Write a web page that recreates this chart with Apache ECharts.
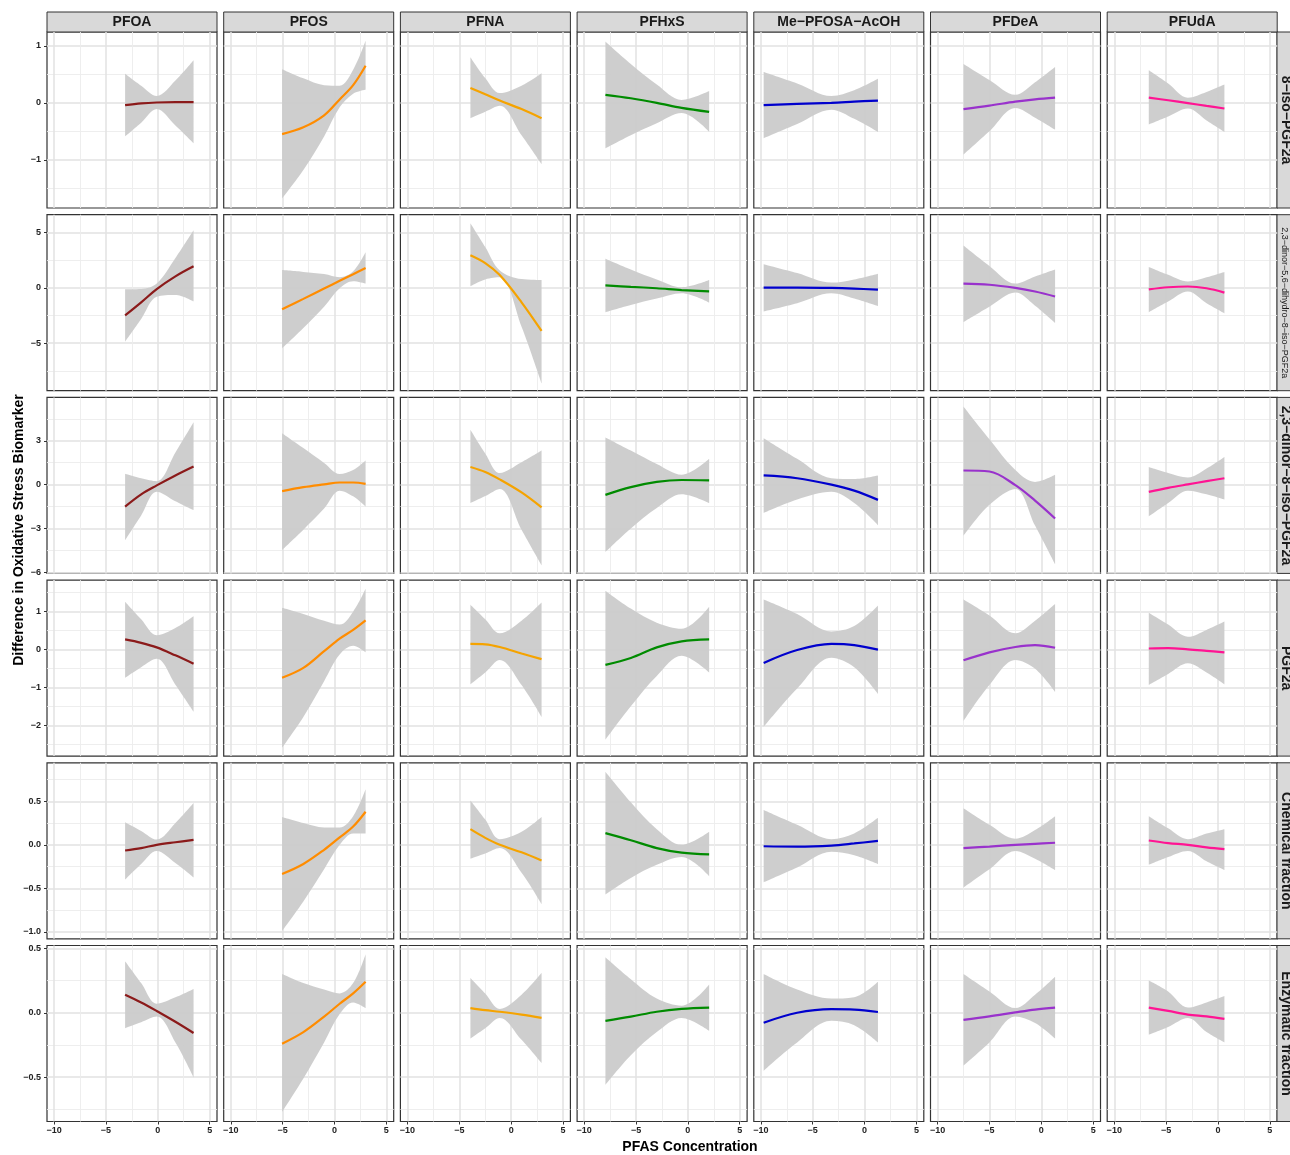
<!DOCTYPE html>
<html>
<head>
<meta charset="utf-8">
<title>PFAS vs oxidative stress</title>
<script src="https://cdn.jsdelivr.net/npm/echarts@6/dist/echarts.min.js"></script>
<style>
  html, body { margin: 0; padding: 0; background: #fff; }
  #chart { width: 1290px; height: 1155px; }
</style>
</head>
<body>
<div id="chart"></div>
<script>
// facet columns / rows
const chemicals = ['PFOA', 'PFOS', 'PFNA', 'PFHxS', 'Me−PFOSA−AcOH', 'PFDeA', 'PFUdA'];
const biomarkers = ['8−iso−PGF2a', '2,3−dinor−5,6−dihydro−8−iso−PGF2a', '2,3−dinor−8−iso−PGF2a',
  'PGF2a', 'Chemical fraction', 'Enzymatic fraction'];
const lineColors = ['#8B1A1A', '#FF8C00', '#F5A300', '#008B00', '#0000CD', '#9932CC', '#FF1493'];

// x positions sampled per chemical
const xPoints = [
  [-3.15, -1.6, -0.1, 1.7, 3.45],
  [-5.05, -3.0, -1.0, 0.5, 1.8, 3.0],
  [-3.93, -2.5, -1.1, 1.0, 2.93],
  [-7.95, -5.5, -3.0, -0.6, 2.05],
  [-9.73, -6.5, -3.2, -1.0, 1.29],
  [-7.5, -5.0, -2.5, -0.6, 1.33],
  [-6.67, -4.8, -2.9, -1.1, 0.62]
];

// 8-iso-PGF2a
const isoFit = [
  [-0.04, -0.01, 0.005, 0.012, 0.012],
  [-0.55, -0.43, -0.22, 0.06, 0.31, 0.65],
  [0.26, 0.15, 0.04, -0.11, -0.27],
  [0.14, 0.08, 0.0, -0.09, -0.16],
  [-0.04, -0.02, 0.0, 0.02, 0.04],
  [-0.11, -0.05, 0.02, 0.06, 0.09],
  [0.09, 0.045, -0.005, -0.055, -0.10]
];
const isoLow = [
  [-0.59, -0.35, -0.11, -0.40, -0.71],
  [-1.68, -1.18, -0.59, -0.08, 0.16, 0.23],
  [-0.27, -0.155, -0.05, -0.57, -1.075],
  [-0.80, -0.57, -0.36, -0.18, -0.51],
  [-0.62, -0.37, -0.12, -0.28, -0.51],
  [-0.91, -0.50, -0.09, -0.26, -0.47],
  [-0.38, -0.24, -0.10, -0.31, -0.51]
];
const isoHigh = [
  [0.51, 0.30, 0.12, 0.39, 0.745],
  [0.59, 0.43, 0.31, 0.30, 0.58, 1.09],
  [0.80, 0.435, 0.17, 0.30, 0.52],
  [1.075, 0.68, 0.32, 0.05, 0.205],
  [0.54, 0.34, 0.12, 0.22, 0.42],
  [0.68, 0.40, 0.14, 0.36, 0.63],
  [0.57, 0.34, 0.09, 0.19, 0.32]
];

// 2,3-dinor-5,6-dihydro-8-iso-PGF2a
const dihydroFit = [
  [-2.48, -1.3, -0.1, 1.05, 1.96],
  [-1.93, -0.99, -0.06, 0.64, 1.24, 1.80],
  [2.96, 2.25, 1.16, -1.3, -3.89],
  [0.225, 0.10, -0.03, -0.19, -0.32],
  [0.03, 0.03, 0.0, -0.06, -0.16],
  [0.39, 0.29, 0.0, -0.32, -0.77],
  [-0.13, 0.06, 0.13, -0.03, -0.42]
];
const dihydroLow = [
  [-4.86, -2.8, -0.8, -0.64, -1.22],
  [-5.47, -3.63, -1.70, -0.03, 0.6, 0.39],
  [0.16, 0.77, 0.96, -3.5, -8.62],
  [-2.19, -1.54, -0.96, -0.48, -1.32],
  [-2.12, -1.38, -0.48, -0.96, -1.64],
  [-3.09, -1.70, -0.42, -1.60, -3.15],
  [-2.19, -1.22, -0.32, -1.38, -2.28]
];
const dihydroHigh = [
  [-0.13, -0.1, 0.39, 2.7, 5.21],
  [1.61, 1.45, 1.25, 0.96, 1.5, 3.22],
  [5.85, 3.7, 1.58, 0.8, 0.71],
  [2.64, 1.67, 0.77, 0.06, 0.71],
  [2.15, 1.35, 0.48, 0.77, 1.29],
  [3.83, 1.99, 0.39, 1.03, 1.67],
  [1.90, 1.19, 0.58, 0.96, 1.45]
];

// 2,3-dinor-8-iso-PGF2a
const dinorFit = [
  [-1.50, -0.66, -0.05, 0.63, 1.24],
  [-0.44, -0.17, 0.02, 0.15, 0.15, 0.05],
  [1.21, 0.87, 0.36, -0.53, -1.55],
  [-0.70, -0.17, 0.19, 0.32, 0.29],
  [0.63, 0.44, 0.0, -0.41, -1.04],
  [0.97, 0.9, -0.03, -1.09, -2.31],
  [-0.49, -0.22, 0.02, 0.24, 0.44]
];
const dinorLow = [
  [-3.81, -2.11, -0.49, -1.14, -1.75],
  [-4.47, -3.08, -1.63, -0.41, -0.8, -1.50],
  [-1.26, -0.78, -0.29, -3.08, -5.51],
  [-4.61, -3.0, -1.6, -0.66, -1.26],
  [-1.94, -1.02, -0.49, -1.26, -2.77],
  [-3.50, -1.38, -0.29, -2.8, -5.44],
  [-2.18, -1.26, -0.41, -0.66, -1.02]
];
const dinorHigh = [
  [0.75, 0.44, 0.24, 2.2, 4.27],
  [3.52, 2.50, 1.48, 0.73, 1.0, 1.65],
  [3.76, 2.14, 0.80, 1.53, 2.33],
  [3.23, 2.33, 1.41, 0.68, 1.77],
  [3.18, 1.77, 0.44, 0.39, 0.63],
  [5.34, 3.1, 1.0, 0.19, 0.68],
  [1.21, 0.80, 0.49, 1.1, 1.89]
];

// PGF2a
const pgfFit = [
  [0.27, 0.18, 0.06, -0.15, -0.37],
  [-0.74, -0.48, -0.04, 0.29, 0.52, 0.77],
  [0.15, 0.14, 0.07, -0.10, -0.25],
  [-0.40, -0.22, 0.06, 0.22, 0.27],
  [-0.35, -0.01, 0.15, 0.12, 0.0],
  [-0.28, -0.07, 0.07, 0.12, 0.05],
  [0.03, 0.04, 0.01, -0.03, -0.07]
];
const pgfLow = [
  [-0.74, -0.46, -0.24, -0.92, -1.63],
  [-2.58, -1.77, -0.83, -0.13, 0.10, -0.07],
  [-0.91, -0.60, -0.27, -0.93, -1.77],
  [-2.37, -1.49, -0.69, -0.16, -0.60],
  [-2.03, -1.02, -0.21, -0.46, -1.16],
  [-1.88, -0.93, -0.27, -0.50, -1.11],
  [-0.93, -0.64, -0.36, -0.60, -0.91]
];
const pgfHigh = [
  [1.26, 0.80, 0.38, 0.57, 0.88],
  [1.10, 0.94, 0.76, 0.66, 1.0, 1.60],
  [1.18, 0.80, 0.43, 0.76, 1.24],
  [1.55, 1.08, 0.71, 0.55, 1.13],
  [1.32, 0.94, 0.48, 0.62, 1.16],
  [1.32, 0.90, 0.43, 0.76, 1.20],
  [0.97, 0.66, 0.34, 0.52, 0.74]
];

// Chemical fraction
const chemFit = [
  [-0.065, -0.037, 0.0, 0.03, 0.057],
  [-0.335, -0.22, -0.057, 0.086, 0.21, 0.38],
  [0.18, 0.08, 0.0, -0.086, -0.18],
  [0.135, 0.053, -0.037, -0.09, -0.11],
  [-0.016, -0.02, -0.008, 0.016, 0.045],
  [-0.037, -0.02, 0.0, 0.012, 0.024],
  [0.05, 0.02, 0.0, -0.03, -0.05]
];
const chemLow = [
  [-0.40, -0.22, -0.07, -0.21, -0.375],
  [-0.99, -0.65, -0.28, 0.0, 0.13, 0.13],
  [-0.16, -0.10, -0.037, -0.32, -0.68],
  [-0.57, -0.38, -0.23, -0.14, -0.36],
  [-0.43, -0.26, -0.08, -0.12, -0.22],
  [-0.49, -0.28, -0.07, -0.16, -0.29],
  [-0.23, -0.14, -0.07, -0.19, -0.29]
];
const chemHigh = [
  [0.26, 0.16, 0.06, 0.25, 0.48],
  [0.32, 0.25, 0.20, 0.20, 0.33, 0.64],
  [0.51, 0.29, 0.065, 0.15, 0.32],
  [0.84, 0.49, 0.18, 0.0, 0.15],
  [0.40, 0.23, 0.065, 0.13, 0.31],
  [0.42, 0.23, 0.07, 0.17, 0.33],
  [0.33, 0.19, 0.065, 0.13, 0.18]
];

// Enzymatic fraction
const enzFit = [
  [0.14, 0.08, 0.014, -0.07, -0.157],
  [-0.24, -0.15, -0.03, 0.07, 0.15, 0.24],
  [0.036, 0.02, 0.008, -0.014, -0.04],
  [-0.063, -0.03, 0.008, 0.03, 0.04],
  [-0.077, 0.0, 0.028, 0.025, 0.006],
  [-0.055, -0.028, 0.003, 0.025, 0.04],
  [0.04, 0.014, -0.014, -0.028, -0.047]
];
const enzLow = [
  [-0.12, -0.074, -0.03, -0.23, -0.50],
  [-0.77, -0.51, -0.23, -0.01, 0.08, 0.036],
  [-0.20, -0.12, -0.04, -0.21, -0.39],
  [-0.56, -0.33, -0.15, -0.04, -0.14],
  [-0.45, -0.23, -0.063, -0.096, -0.23],
  [-0.41, -0.23, -0.03, -0.08, -0.20],
  [-0.17, -0.11, -0.04, -0.15, -0.23]
];
const enzHigh = [
  [0.40, 0.23, 0.07, 0.12, 0.185],
  [0.30, 0.23, 0.18, 0.15, 0.23, 0.455],
  [0.27, 0.15, 0.03, 0.14, 0.31],
  [0.43, 0.26, 0.11, 0.055, 0.22],
  [0.30, 0.18, 0.11, 0.12, 0.24],
  [0.30, 0.165, 0.036, 0.14, 0.28],
  [0.25, 0.165, 0.04, 0.08, 0.13]
];

const fitRows = [isoFit, dihydroFit, dinorFit, pgfFit, chemFit, enzFit];
const lowRows = [isoLow, dihydroLow, dinorLow, pgfLow, chemLow, enzLow];
const highRows = [isoHigh, dihydroHigh, dinorHigh, pgfHigh, chemHigh, enzHigh];

// axes
const xRange = [-10.68, 5.71];
const xMajor = [-10, -5, 0, 5];
const xMinor = [-7.5, -2.5, 2.5];
const yRanges = [[-1.845, 1.242], [-9.29, 6.62], [-6.07, 5.97], [-2.80, 1.83], [-1.08, 0.943], [-0.844, 0.522]];
const yMajor = [[-1, 0, 1], [-5, 0, 5], [-6, -3, 0, 3], [-2, -1, 0, 1], [-1, -0.5, 0, 0.5], [-0.5, 0, 0.5]];
const yMinor = [[-1.5, -0.5, 0.5], [-7.5, -2.5, 2.5], [-4.5, -1.5, 1.5, 4.5], [-2.5, -1.5, -0.5, 0.5, 1.5],
  [-0.75, -0.25, 0.25, 0.75], [-0.75, -0.25, 0.25]];
const yDigits = [0, 0, 0, 0, 1, 1];

const FONT = '"Liberation Sans", Arial, Helvetica, sans-serif';
const fmt = (v, d) => (v < 0 ? '−' : '') + Math.abs(v).toFixed(d);

const left0 = 47, top0 = 32, panelW = 170, panelH = 176, colStep = 176.7, rowStep = 182.7;
const majorGrid = { color: '#e2e2e2', width: 1.5 };
const minorGrid = { color: '#ececec', width: 0.9 };

let grids = [], xAxes = [], yAxes = [], series = [], graphics = [];

biomarkers.forEach((bm, r) => {
  chemicals.forEach((chem, c) => {
    const i = grids.length;
    const isBottom = r === biomarkers.length - 1, isLeft = c === 0;
    grids.push({
      left: left0 + c * colStep, top: top0 + r * rowStep, width: panelW, height: panelH,
      show: true, backgroundColor: '#fff', borderColor: '#333', borderWidth: 1.2
    });
    // major + minor x
    xAxes.push({
      type: 'value', gridIndex: i, min: xRange[0], max: xRange[1], position: 'bottom',
      axisLine: { show: false, onZero: false },
      axisTick: { show: isBottom, customValues: xMajor, length: 3, lineStyle: { color: '#333', width: 1 } },
      axisLabel: {
        show: isBottom, customValues: xMajor, margin: 5, fontSize: 9, fontWeight: 'bold',
        color: '#222', fontFamily: FONT, formatter: v => fmt(v, 0)
      },
      splitLine: { show: true, lineStyle: majorGrid }
    });
    xAxes.push({
      type: 'value', gridIndex: i, min: xRange[0], max: xRange[1], position: 'bottom',
      axisLine: { show: false, onZero: false }, axisLabel: { show: false },
      axisTick: { show: false, customValues: xMinor },
      splitLine: { show: true, lineStyle: minorGrid }
    });
    // major + minor y
    yAxes.push({
      type: 'value', gridIndex: i, min: yRanges[r][0], max: yRanges[r][1], position: 'left',
      axisLine: { show: false, onZero: false },
      axisTick: { show: isLeft, customValues: yMajor[r], length: 3, lineStyle: { color: '#333', width: 1 } },
      axisLabel: {
        show: isLeft, customValues: yMajor[r], margin: 6, fontSize: 9, fontWeight: 'bold',
        color: '#222', fontFamily: FONT, formatter: v => fmt(v, yDigits[r])
      },
      splitLine: { show: true, lineStyle: majorGrid }
    });
    yAxes.push({
      type: 'value', gridIndex: i, min: yRanges[r][0], max: yRanges[r][1], position: 'left',
      axisLine: { show: false, onZero: false }, axisLabel: { show: false },
      axisTick: { show: false, customValues: yMinor[r] },
      splitLine: { show: true, lineStyle: minorGrid }
    });

    const xs = xPoints[c];
    const lo = lowRows[r][c], hi = highRows[r][c], fit = fitRows[r][c];
    const common = {
      type: 'line', xAxisIndex: 2 * i, yAxisIndex: 2 * i, symbol: 'none',
      smooth: 0.35, silent: true
    };
    // confidence band: lower edge + stacked width
    // value first so that the stack runs on y (encode maps column 1 to x)
    series.push(Object.assign({}, common, {
      stack: 'ci' + i, stackStrategy: 'all',
      encode: { x: 1, y: 0 },
      data: xs.map((x, k) => [lo[k], x]),
      lineStyle: { opacity: 0 }
    }));
    series.push(Object.assign({}, common, {
      stack: 'ci' + i, stackStrategy: 'all',
      encode: { x: 1, y: 0 },
      data: xs.map((x, k) => [hi[k] - lo[k], x]),
      lineStyle: { opacity: 0 },
      areaStyle: { color: '#cbcbcb', opacity: 0.95 }
    }));
    series.push(Object.assign({}, common, {
      data: xs.map((x, k) => [x, fit[k]]),
      lineStyle: { color: lineColors[c], width: 2.2 }
    }));
  });
});

// strips on top
chemicals.forEach((chem, c) => {
  const x = left0 + c * colStep;
  graphics.push({
    type: 'rect', shape: { x: x, y: 12, width: panelW, height: 20 },
    style: { fill: '#d9d9d9', stroke: '#333', lineWidth: 1 }
  });
  graphics.push({
    type: 'text', x: x + panelW / 2, y: 22,
    style: { text: chem, font: 'bold 14px ' + FONT, fill: '#1a1a1a', textAlign: 'center', textVerticalAlign: 'middle' }
  });
});
// strips on the right
biomarkers.forEach((bm, r) => {
  const y = top0 + r * rowStep;
  const small = r === 1;
  graphics.push({
    type: 'rect', shape: { x: 1277, y: y, width: 22, height: panelH },
    style: { fill: '#d9d9d9', stroke: '#333', lineWidth: 1 }
  });
  graphics.push({
    type: 'text', x: small ? 1284 : 1285.5, y: y + panelH / 2, rotation: -Math.PI / 2,
    style: {
      text: bm, font: (small ? '9px ' : 'bold 14px ') + FONT, fill: '#1a1a1a',
      textAlign: 'center', textVerticalAlign: 'middle'
    }
  });
});
// axis titles
graphics.push({
  type: 'text', x: 690, y: 1147,
  style: { text: 'PFAS Concentration', font: 'bold 14px ' + FONT, fill: '#000', textAlign: 'center', textVerticalAlign: 'middle' }
});
graphics.push({
  type: 'text', x: 19, y: 530, rotation: Math.PI / 2,
  style: { text: 'Difference in Oxidative Stress Biomarker', font: 'bold 14px ' + FONT, fill: '#000', textAlign: 'center', textVerticalAlign: 'middle' }
});

const chart = echarts.init(document.getElementById('chart'));
chart.setOption({
  animation: false,
  backgroundColor: '#fff',
  grid: grids,
  xAxis: xAxes,
  yAxis: yAxes,
  series: series,
  graphic: { elements: graphics }
});
</script>
</body>
</html>
